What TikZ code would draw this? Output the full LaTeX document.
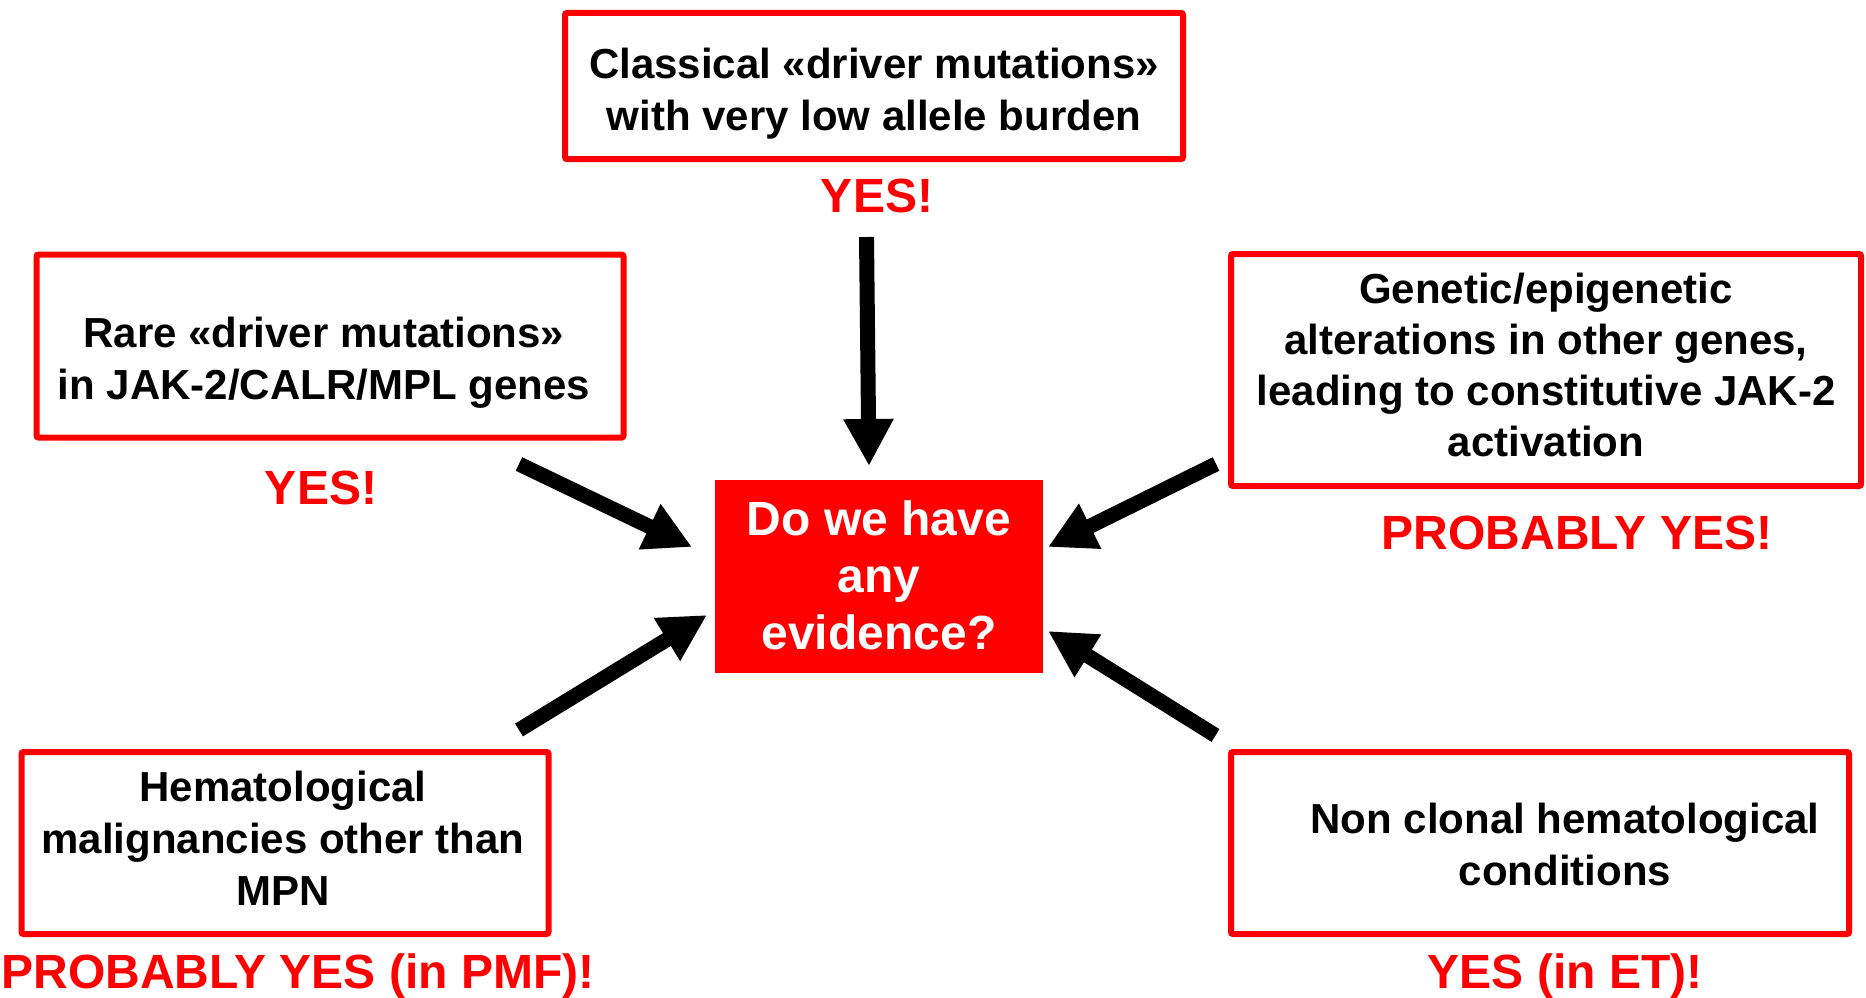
\documentclass[tikz,border=0pt]{standalone}
\usepackage{fontspec}
\setmainfont{Liberation Sans}
\usetikzlibrary{arrows.meta}
\definecolor{pred}{RGB}{255,0,0}
\begin{document}
\begin{tikzpicture}[x=1pt,y=-1pt,
  box/.style={draw=pred,line width=6pt,rounded corners=2pt,inner sep=0pt},
  boxtext/.style={align=center,inner sep=0pt,font=\fontsize{42}{52}\selectfont\bfseries},
  qtext/.style={align=center,inner sep=0pt,text=white,font=\fontsize{48}{57}\selectfont\bfseries},
  verdict/.style={inner sep=0pt,text=pred,font=\fontsize{48}{57}\selectfont\bfseries},
  bigarrow/.style={line width=15pt,-{Triangle[length=47pt,width=47pt]}}]
\useasboundingbox (0,0) rectangle (1866,998);

% boxes
\node[box,minimum width=618pt,minimum height=146pt] (topbox) at (874,86) {};
\node[box,minimum width=587pt,minimum height=183pt] (lmbox) at (330,346) {};
\node[box,minimum width=630pt,minimum height=232pt] (rmbox) at (1546,370) {};
\node[box,minimum width=527pt,minimum height=182pt] (blbox) at (285,843) {};
\node[box,minimum width=618pt,minimum height=182pt] (brbox) at (1540,843) {};
\node[fill=pred,inner sep=0pt,minimum width=328pt,minimum height=193pt] (center) at (879,576) {};

% texts
\node[boxtext] (toptext) at (874,94) {Classical «driver mutations»\\with very low allele burden};
\node[boxtext] (lmtext) at (324,363) {Rare «driver mutations»\\in JAK-2/CALR/MPL genes};
\node[boxtext,font=\fontsize{42}{51}\selectfont\bfseries] (rmtext) at (1546,365) {Genetic/epigenetic\\alterations in other genes,\\leading to constitutive JAK-2\\activation};
\node[boxtext] (bltext) at (283,838.5) {Hematological\\malignancies other than\\MPN};
\node[boxtext] (brtext) at (1565,844) {Non clonal hematological\\conditions};
\node[qtext] (qtext) at (879,575.5) {Do we have\\any\\evidence?};

% verdicts
\node[verdict] (topv) at (877,196) {YES!};
\node[verdict] (lmv) at (321,488) {YES!};
\node[verdict] (rmv) at (1577,533) {PROBABLY YES!};
\node[verdict] (blv) at (298,976.5) {PROBABLY YES (in PMF)!};
\node[verdict] (brv) at (1565,976.5) {YES (in ET)!};

% arrow ends
\coordinate (a1s) at (866.5,237);
\coordinate (a1e) at (869,466);
\coordinate (a2s) at (519,464);
\coordinate (a2e) at (692,547);
\coordinate (a3s) at (1216,464);
\coordinate (a3e) at (1048,547);
\coordinate (a4s) at (519,730);
\coordinate (a4e) at (707,615);
\coordinate (a5s) at (1215.5,735.5);
\coordinate (a5e) at (1048,631);

\draw[bigarrow] (a1s) -- (a1e);
\draw[bigarrow] (a2s) -- (a2e);
\draw[bigarrow] (a3s) -- (a3e);
\draw[bigarrow] (a4s) -- (a4e);
\draw[bigarrow] (a5s) -- (a5e);
\end{tikzpicture}
\end{document}
